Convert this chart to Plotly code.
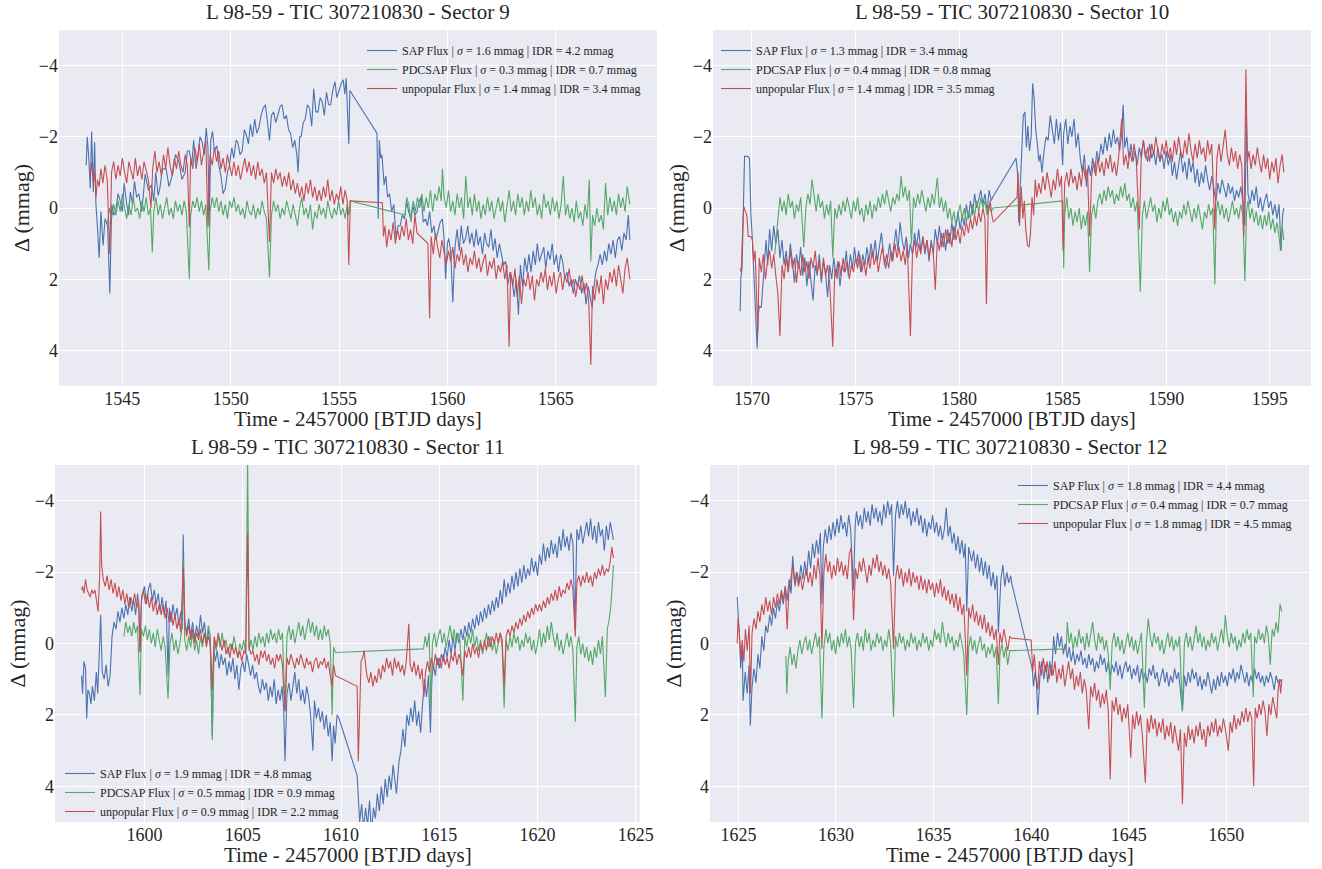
import plotly.graph_objects as go

# ---------------- data (time [BTJD], delta [mmag]) ----------------
sectors = [9, 10, 11, 12]
sigma_sap = [1.6, 1.3, 1.9, 1.8]
idr_sap = [4.2, 3.4, 4.8, 4.4]
sigma_pdc = [0.3, 0.4, 0.5, 0.4]
idr_pdc = [0.7, 0.8, 0.9, 0.7]
sigma_unp = [1.4, 1.4, 0.9, 1.8]
idr_unp = [3.4, 3.5, 2.2, 4.5]

s9_sap = [(1543.33,-1.2),(1543.38,-2.0),(1543.45,-1.4),(1543.52,-0.55),(1543.58,-2.15),(1543.66,-0.45),(1543.72,-1.85),(1543.78,-0.1),(1543.85,0.55),(1543.93,1.4),(1544.01,0.1),(1544.11,1.05),(1544.20,0.3),(1544.32,0.5),(1544.42,2.4),(1544.51,-0.1),(1544.60,0.2),(1544.69,0.1),(1544.80,-0.4),(1544.88,-0.25),(1545.00,0.1),(1545.08,-0.7),(1545.18,-0.2),(1545.28,0.2),(1545.37,-0.45),(1545.47,-0.1),(1545.56,-0.75),(1545.66,-0.3),(1545.76,-0.4),(1545.90,0.1),(1546.05,-0.95),(1546.20,-0.5),(1546.34,-0.65),(1546.45,-0.2),(1546.54,-1.0),(1546.65,-0.35),(1546.73,-0.55),(1546.85,-1.1),(1547.02,-1.1),(1547.15,-0.6),(1547.32,-0.95),(1547.45,-1.5),(1547.61,-1.3),(1547.75,-0.8),(1547.90,-1.0),(1548.00,-1.6),(1548.09,-1.6),(1548.20,-1.2),(1548.29,-1.9),(1548.40,-1.1),(1548.48,-1.4),(1548.58,-2.0),(1548.68,-1.85),(1548.78,-1.5),(1548.87,-2.25),(1548.95,-1.7),(1549.01,0.5),(1549.08,-1.9),(1549.16,-2.15),(1549.25,-1.6),(1549.36,-1.75),(1549.45,-1.2),(1549.55,-0.9),(1549.65,-0.4),(1549.75,-0.55),(1549.85,-1.0),(1549.94,-1.2),(1550.05,-1.7),(1550.14,-1.4),(1550.25,-1.9),(1550.33,-1.85),(1550.43,-1.5),(1550.53,-1.6),(1550.63,-2.2),(1550.72,-2.05),(1550.82,-1.8),(1550.91,-2.35),(1551.01,-2.0),(1551.11,-2.5),(1551.20,-2.1),(1551.30,-2.25),(1551.40,-2.6),(1551.50,-2.8),(1551.60,-2.9),(1551.70,-2.4),(1551.79,-1.9),(1551.88,-2.6),(1551.98,-2.7),(1552.08,-2.4),(1552.18,-2.6),(1552.28,-2.85),(1552.37,-2.9),(1552.47,-2.5),(1552.57,-2.6),(1552.67,-2.2),(1552.76,-2.1),(1552.86,-1.7),(1552.96,-1.9),(1553.05,-1.5),(1553.11,-1.0),(1553.18,-2.0),(1553.25,-2.0),(1553.35,-2.4),(1553.44,-2.5),(1553.54,-2.9),(1553.64,-2.8),(1553.74,-2.3),(1553.83,-3.35),(1553.93,-2.7),(1554.03,-2.7),(1554.13,-3.1),(1554.22,-3.0),(1554.32,-2.6),(1554.42,-3.25),(1554.52,-2.9),(1554.61,-2.9),(1554.71,-3.3),(1554.81,-3.55),(1554.90,-3.1),(1555.00,-3.3),(1555.10,-3.5),(1555.19,-3.6),(1555.27,-3.2),(1555.33,-3.65),(1555.40,-2.4),(1555.45,-1.8),(1555.50,-3.3),(1556.75,-2.1),(1556.81,0.3),(1556.86,-1.9),(1556.92,-1.4),(1556.98,-1.5),(1557.08,-0.65),(1557.16,-0.9),(1557.24,-0.3),(1557.33,-0.4),(1557.43,0.1),(1557.53,-0.1),(1557.63,0.85),(1557.72,0.5),(1557.82,0.5),(1557.92,0.2),(1558.02,0.3),(1558.12,-0.2),(1558.21,0.1),(1558.31,0.3),(1558.40,-0.1),(1558.50,0.2),(1558.60,0.1),(1558.70,-0.2),(1558.79,-0.3),(1558.89,0.4),(1558.99,0.3),(1559.08,0.5),(1559.18,0.1),(1559.28,0.7),(1559.38,0.5),(1559.47,0.9),(1559.57,0.65),(1559.67,0.4),(1559.77,0.3),(1559.85,0.9),(1559.92,2.0),(1560.00,1.0),(1560.06,0.85),(1560.15,1.2),(1560.25,2.65),(1560.35,1.1),(1560.45,0.6),(1560.55,1.2),(1560.64,0.5),(1560.74,1.0),(1560.84,0.85),(1560.94,0.5),(1561.03,1.0),(1561.13,0.7),(1561.23,1.1),(1561.33,0.6),(1561.42,1.05),(1561.52,0.8),(1561.62,1.3),(1561.72,0.7),(1561.81,1.0),(1561.91,1.1),(1562.01,0.6),(1562.11,1.2),(1562.20,0.85),(1562.30,1.4),(1562.40,1.0),(1562.50,1.3),(1562.59,1.6),(1562.69,1.5),(1562.79,2.15),(1562.89,1.8),(1562.98,2.0),(1563.08,2.5),(1563.18,2.0),(1563.28,3.0),(1563.37,1.6),(1563.47,2.2),(1563.57,1.4),(1563.67,1.8),(1563.76,1.3),(1563.86,1.8),(1563.96,1.2),(1564.06,1.6),(1564.15,1.0),(1564.25,1.5),(1564.35,1.3),(1564.45,1.1),(1564.54,1.7),(1564.64,1.2),(1564.74,1.45),(1564.84,1.0),(1564.93,1.6),(1565.03,1.3),(1565.13,1.8),(1565.23,1.3),(1565.32,1.5),(1565.42,2.0),(1565.52,1.8),(1565.62,2.2),(1565.71,2.0),(1565.81,2.4),(1565.91,2.0),(1566.00,2.2),(1566.10,1.9),(1566.20,2.4),(1566.30,2.1),(1566.40,2.7),(1566.50,2.2),(1566.60,2.6),(1566.68,2.8),(1566.75,2.3),(1566.85,1.8),(1566.95,1.6),(1567.05,1.3),(1567.15,1.6),(1567.25,1.2),(1567.35,1.5),(1567.45,1.0),(1567.55,1.3),(1567.65,0.9),(1567.75,1.4),(1567.85,0.9),(1567.95,0.8),(1568.05,1.2),(1568.15,0.7),(1568.25,0.9),(1568.35,0.2),(1568.42,0.9)]

s9_pdc = [(1544.30,0.5),(1544.40,0.0),(1544.50,0.3),(1544.60,-0.1),(1544.70,0.2),(1544.80,-0.2),(1544.90,0.1),(1545.00,-0.4),(1545.10,0.0),(1545.20,0.3),(1545.30,-0.1),(1545.40,0.2),(1545.50,-0.3),(1545.60,0.1),(1545.70,0.0),(1545.80,0.3),(1545.90,-0.2),(1546.00,0.1),(1546.10,-0.3),(1546.20,0.2),(1546.30,0.0),(1546.38,1.25),(1546.45,0.1),(1546.55,-0.3),(1546.65,0.2),(1546.75,-0.1),(1546.85,0.3),(1546.95,0.0),(1547.05,-0.3),(1547.15,0.2),(1547.25,0.0),(1547.35,0.3),(1547.45,-0.2),(1547.55,0.1),(1547.65,-0.1),(1547.75,0.2),(1547.85,-0.2),(1547.95,0.1),(1548.09,2.0),(1548.15,0.2),(1548.25,-0.2),(1548.35,0.0),(1548.45,-0.3),(1548.55,0.1),(1548.65,-0.2),(1548.75,0.2),(1548.85,-0.1),(1548.99,1.75),(1549.05,0.1),(1549.15,-0.3),(1549.25,0.0),(1549.35,-0.3),(1549.45,0.1),(1549.55,-0.2),(1549.65,0.2),(1549.75,-0.1),(1549.85,0.3),(1549.95,-0.2),(1550.05,0.0),(1550.15,-0.3),(1550.25,0.1),(1550.35,-0.1),(1550.45,0.2),(1550.55,0.0),(1550.65,0.3),(1550.75,-0.2),(1550.85,0.1),(1550.95,0.2),(1551.05,-0.1),(1551.15,0.3),(1551.25,0.0),(1551.35,0.2),(1551.45,-0.2),(1551.55,0.1),(1551.65,0.3),(1551.79,1.95),(1551.88,0.2),(1551.98,-0.2),(1552.08,0.1),(1552.18,-0.1),(1552.28,0.3),(1552.38,0.0),(1552.48,0.2),(1552.58,-0.2),(1552.68,0.1),(1552.78,0.3),(1552.88,-0.1),(1552.98,0.2),(1553.08,0.5),(1553.18,0.0),(1553.28,-0.3),(1553.38,0.2),(1553.48,0.0),(1553.58,0.3),(1553.68,-0.1),(1553.78,0.6),(1553.88,0.1),(1553.98,0.3),(1554.08,-0.1),(1554.18,0.2),(1554.28,0.0),(1554.38,0.3),(1554.48,-0.2),(1554.58,0.1),(1554.68,0.3),(1554.78,0.0),(1554.88,0.2),(1554.98,-0.2),(1555.08,0.2),(1555.18,0.0),(1555.28,0.3),(1555.38,-0.1),(1555.45,0.2),(1555.52,-0.2),(1558.05,0.2),(1558.12,-0.3),(1558.22,-0.1),(1558.32,0.4),(1558.42,-0.2),(1558.52,0.1),(1558.62,-0.3),(1558.72,0.0),(1558.82,-0.4),(1558.92,0.1),(1559.02,-0.3),(1559.12,0.0),(1559.22,-0.5),(1559.32,0.1),(1559.42,-0.4),(1559.52,-0.2),(1559.62,-0.6),(1559.72,-0.2),(1559.77,-1.1),(1559.85,-0.3),(1559.95,0.0),(1560.05,-0.5),(1560.15,0.1),(1560.25,-0.2),(1560.35,0.2),(1560.45,-0.4),(1560.55,0.0),(1560.65,-0.3),(1560.75,0.3),(1560.85,-0.9),(1560.95,0.0),(1561.05,-0.3),(1561.15,0.2),(1561.25,-0.4),(1561.35,0.1),(1561.45,-0.2),(1561.55,0.3),(1561.65,-0.1),(1561.75,0.2),(1561.85,-0.3),(1561.95,0.1),(1562.05,-0.2),(1562.15,0.3),(1562.25,0.0),(1562.35,-0.3),(1562.45,0.1),(1562.55,-0.2),(1562.65,0.4),(1562.75,0.0),(1562.85,-0.5),(1562.95,0.1),(1563.05,-0.2),(1563.15,0.2),(1563.25,-0.4),(1563.35,0.0),(1563.45,-0.3),(1563.55,0.2),(1563.65,-0.2),(1563.75,0.1),(1563.85,-0.5),(1563.95,0.0),(1564.05,-0.3),(1564.15,0.2),(1564.25,-0.1),(1564.35,0.3),(1564.45,-0.4),(1564.55,0.0),(1564.65,-0.2),(1564.75,0.2),(1564.85,-0.3),(1564.95,0.1),(1565.05,-0.2),(1565.15,0.3),(1565.25,-0.1),(1565.35,-0.9),(1565.45,0.2),(1565.55,-0.1),(1565.65,0.3),(1565.75,0.0),(1565.85,0.4),(1565.95,-0.2),(1566.05,0.3),(1566.15,0.1),(1566.25,0.5),(1566.35,-0.1),(1566.45,0.3),(1566.55,-0.8),(1566.62,1.5),(1566.70,0.2),(1566.80,0.5),(1566.90,0.0),(1567.00,0.4),(1567.10,0.2),(1567.20,0.6),(1567.30,-0.7),(1567.40,0.2),(1567.50,-0.3),(1567.60,0.1),(1567.70,-0.2),(1567.80,0.2),(1567.90,-0.4),(1568.00,0.0),(1568.10,-0.3),(1568.20,0.1),(1568.30,-0.6),(1568.42,-0.1)]

s9_unp = [(1543.52,-0.9),(1543.58,-1.3),(1543.66,-0.7),(1543.72,-1.0),(1543.78,-0.3),(1543.85,-0.8),(1543.93,-0.6),(1544.01,-1.1),(1544.10,-0.7),(1544.20,-1.2),(1544.30,-0.8),(1544.42,1.3),(1544.50,-1.0),(1544.60,-1.3),(1544.70,-0.8),(1544.80,-1.2),(1544.90,-0.9),(1545.00,-1.4),(1545.10,-1.0),(1545.20,-0.7),(1545.30,-1.3),(1545.40,-1.0),(1545.50,-0.8),(1545.60,-1.4),(1545.70,-0.9),(1545.80,-1.2),(1545.90,-0.8),(1546.00,-1.3),(1546.10,-1.0),(1546.20,-0.8),(1546.32,0.0),(1546.40,-1.1),(1546.50,-1.6),(1546.60,-1.0),(1546.70,-1.3),(1546.80,-0.9),(1546.90,-1.5),(1547.00,-1.1),(1547.10,-1.7),(1547.20,-1.2),(1547.30,-0.9),(1547.40,-1.4),(1547.50,-1.1),(1547.60,-1.6),(1547.70,-1.2),(1547.80,-1.0),(1547.90,-1.5),(1548.00,-1.2),(1548.09,0.55),(1548.15,-1.4),(1548.25,-1.1),(1548.35,-1.7),(1548.45,-1.3),(1548.55,-1.8),(1548.65,-1.2),(1548.75,-1.6),(1548.85,-1.9),(1548.95,0.55),(1549.05,-1.5),(1549.15,-1.2),(1549.25,-1.7),(1549.35,-1.3),(1549.45,-1.6),(1549.55,-1.1),(1549.65,-1.4),(1549.75,-1.0),(1549.85,-1.5),(1549.95,-1.2),(1550.05,-0.9),(1550.15,-1.3),(1550.25,-0.9),(1550.35,-1.2),(1550.45,-0.8),(1550.55,-1.1),(1550.65,-1.4),(1550.75,-1.0),(1550.85,-1.3),(1550.95,-0.9),(1551.05,-1.2),(1551.15,-0.8),(1551.25,-1.3),(1551.35,-0.9),(1551.45,-1.1),(1551.55,-0.7),(1551.65,-1.0),(1551.79,0.95),(1551.88,-1.0),(1551.98,-0.7),(1552.08,-1.1),(1552.18,-0.8),(1552.28,-1.0),(1552.38,-0.6),(1552.48,-0.9),(1552.58,-0.6),(1552.68,-1.0),(1552.78,-0.5),(1552.88,-0.8),(1552.98,-0.4),(1553.08,-0.7),(1553.18,-0.3),(1553.28,-0.6),(1553.38,-0.2),(1553.48,-0.7),(1553.58,-0.4),(1553.68,-0.8),(1553.78,-0.3),(1553.88,-0.6),(1553.98,-0.2),(1554.08,-0.5),(1554.18,-0.2),(1554.28,-0.6),(1554.38,-0.3),(1554.48,-0.8),(1554.58,-0.2),(1554.68,-0.5),(1554.78,-0.1),(1554.88,-0.4),(1554.98,-0.2),(1555.08,-0.6),(1555.18,-0.1),(1555.28,-0.5),(1555.38,-0.2),(1555.45,1.6),(1555.52,-0.2),(1557.00,-0.15),(1557.05,0.8),(1557.12,0.5),(1557.20,1.1),(1557.30,0.6),(1557.40,0.9),(1557.50,0.4),(1557.60,1.0),(1557.70,0.6),(1557.80,0.9),(1557.90,0.5),(1558.00,0.8),(1558.10,0.3),(1558.20,0.9),(1558.30,0.6),(1558.40,1.0),(1558.50,0.2),(1558.60,0.7),(1559.10,1.0),(1559.18,3.1),(1559.25,0.8),(1559.35,1.3),(1559.45,0.7),(1559.55,1.1),(1559.65,1.4),(1559.75,0.9),(1559.85,1.3),(1559.95,1.6),(1560.05,1.2),(1560.15,1.5),(1560.25,1.1),(1560.35,1.7),(1560.45,1.3),(1560.55,1.5),(1560.65,1.1),(1560.75,1.6),(1560.85,1.3),(1560.95,1.8),(1561.05,1.4),(1561.15,1.6),(1561.25,1.2),(1561.35,1.7),(1561.45,1.4),(1561.55,1.8),(1561.65,1.5),(1561.75,1.3),(1561.85,1.9),(1561.95,1.5),(1562.05,1.7),(1562.15,1.4),(1562.25,2.0),(1562.35,1.6),(1562.45,1.8),(1562.55,1.5),(1562.65,2.0),(1562.75,1.6),(1562.85,3.9),(1562.92,1.8),(1563.02,2.2),(1563.12,1.7),(1563.22,2.5),(1563.32,1.9),(1563.42,2.7),(1563.52,2.0),(1563.62,2.2),(1563.72,1.8),(1563.82,2.3),(1563.92,1.9),(1564.02,2.6),(1564.12,2.0),(1564.22,2.2),(1564.32,1.8),(1564.42,2.1),(1564.52,1.7),(1564.62,2.3),(1564.72,1.9),(1564.82,2.2),(1564.92,1.8),(1565.02,2.4),(1565.12,2.0),(1565.22,1.8),(1565.32,2.3),(1565.42,1.9),(1565.52,2.1),(1565.62,1.7),(1565.72,2.2),(1565.82,2.0),(1565.92,2.5),(1566.02,2.1),(1566.12,2.3),(1566.22,1.9),(1566.32,2.4),(1566.42,2.1),(1566.52,2.6),(1566.62,4.4),(1566.70,2.2),(1566.80,2.6),(1566.90,2.0),(1567.00,2.4),(1567.10,1.9),(1567.20,2.7),(1567.30,2.0),(1567.40,2.3),(1567.50,1.8),(1567.60,2.1),(1567.70,1.7),(1567.80,2.2),(1567.90,1.6),(1568.00,2.0),(1568.10,2.4),(1568.20,1.7),(1568.30,1.4),(1568.42,2.0)]

s10_sap = [(1569.43,2.9),(1569.46,2.0),(1569.52,1.7),(1569.58,0.0),(1569.64,-1.45),(1569.72,-1.45),(1569.80,-1.45),(1569.88,-1.4),(1569.95,0.2),(1570.02,0.9),(1570.10,2.0),(1570.18,3.0),(1570.25,3.95),(1570.30,3.0),(1570.36,2.75),(1570.45,2.8),(1570.52,2.2),(1570.60,1.5),(1570.68,0.9),(1570.76,1.6),(1570.85,0.6),(1570.95,1.2),(1571.05,0.5),(1571.15,1.0),(1571.25,0.6),(1571.35,1.4),(1571.45,0.9),(1571.55,1.6),(1571.65,1.2),(1571.75,1.8),(1571.85,1.0),(1571.95,1.5),(1572.05,2.1),(1572.15,1.3),(1572.25,1.7),(1572.35,1.1),(1572.45,1.9),(1572.55,1.4),(1572.65,2.2),(1572.75,1.5),(1572.85,2.0),(1572.95,2.6),(1573.05,1.6),(1573.15,1.9),(1573.25,1.3),(1573.35,2.1),(1573.45,1.5),(1573.55,1.8),(1573.65,2.5),(1573.75,1.6),(1573.85,2.0),(1573.95,1.4),(1574.05,1.9),(1574.15,1.5),(1574.25,2.2),(1574.35,1.6),(1574.45,1.8),(1574.55,1.2),(1574.65,1.9),(1574.75,1.3),(1574.85,1.7),(1574.95,1.1),(1575.05,1.6),(1575.15,1.2),(1575.25,1.8),(1575.35,1.3),(1575.45,1.6),(1575.55,1.1),(1575.65,1.5),(1575.75,1.0),(1575.85,1.4),(1575.95,0.9),(1576.05,1.5),(1576.15,1.1),(1576.25,0.7),(1576.35,1.3),(1576.45,1.7),(1576.55,1.4),(1576.65,1.0),(1576.75,1.5),(1576.85,1.1),(1576.95,0.6),(1577.05,1.2),(1577.15,0.4),(1577.25,0.9),(1577.35,1.2),(1577.45,0.8),(1577.55,1.4),(1577.65,1.0),(1577.75,1.3),(1577.85,0.7),(1577.95,1.1),(1578.05,0.6),(1578.15,1.2),(1578.25,0.8),(1578.35,1.3),(1578.45,0.9),(1578.55,1.5),(1578.65,0.9),(1578.75,1.3),(1578.85,0.6),(1578.95,1.0),(1579.05,0.5),(1579.15,1.1),(1579.25,0.7),(1579.35,1.2),(1579.45,0.6),(1579.55,1.0),(1579.65,0.4),(1579.75,0.9),(1579.85,0.5),(1579.95,0.1),(1580.05,0.6),(1580.15,0.2),(1580.25,0.5),(1580.35,-0.1),(1580.45,0.3),(1580.55,-0.2),(1580.65,0.2),(1580.75,-0.4),(1580.85,0.0),(1580.95,-0.3),(1581.05,-0.5),(1581.15,-0.1),(1581.25,-0.4),(1581.35,0.1),(1581.45,-0.5),(1581.55,-0.2),(1581.62,-0.3),(1582.75,-1.4),(1582.82,-1.0),(1582.88,0.4),(1582.95,-0.5),(1583.02,-1.2),(1583.10,-2.6),(1583.18,-2.7),(1583.25,-1.7),(1583.32,-2.3),(1583.40,-1.6),(1583.48,-2.0),(1583.55,-3.5),(1583.62,-3.1),(1583.70,-2.2),(1583.78,-1.8),(1583.85,-1.3),(1583.92,-1.5),(1584.00,-1.0),(1584.10,-1.6),(1584.20,-2.0),(1584.30,-1.9),(1584.40,-2.6),(1584.50,-2.2),(1584.60,-1.8),(1584.70,-2.5),(1584.80,-1.9),(1584.90,-2.4),(1585.00,-1.2),(1585.05,-2.1),(1585.15,-2.5),(1585.25,-1.8),(1585.35,-2.3),(1585.45,-2.0),(1585.55,-2.5),(1585.65,-1.7),(1585.75,-2.1),(1585.85,-1.4),(1585.95,-1.0),(1586.05,-1.5),(1586.15,-0.6),(1586.25,-1.2),(1586.35,-0.9),(1586.45,-1.4),(1586.55,-1.0),(1586.65,-1.6),(1586.75,-1.3),(1586.85,-1.8),(1586.95,-1.5),(1587.05,-2.0),(1587.15,-1.6),(1587.25,-2.1),(1587.35,-1.7),(1587.45,-2.2),(1587.55,-1.8),(1587.65,-2.0),(1587.75,-1.6),(1587.85,-2.1),(1587.92,-2.9),(1588.00,-1.7),(1588.10,-2.0),(1588.20,-1.4),(1588.30,-1.8),(1588.40,-1.3),(1588.50,-1.6),(1588.60,-1.2),(1588.70,-1.7),(1588.80,-1.4),(1588.90,-1.9),(1589.00,-1.5),(1589.10,-1.3),(1589.20,-1.8),(1589.30,-1.4),(1589.40,-1.6),(1589.50,-1.2),(1589.60,-1.7),(1589.70,-1.3),(1589.80,-1.5),(1589.90,-1.1),(1590.00,-1.6),(1590.10,-1.2),(1590.20,-1.5),(1590.30,-0.9),(1590.40,-1.3),(1590.50,-0.8),(1590.60,-1.2),(1590.70,-1.6),(1590.80,-1.0),(1590.90,-1.3),(1591.00,-0.8),(1591.10,-1.4),(1591.20,-1.0),(1591.30,-1.3),(1591.40,-0.7),(1591.50,-1.1),(1591.60,-0.6),(1591.70,-1.0),(1591.80,-0.7),(1591.90,-1.2),(1592.00,-0.8),(1592.10,-0.5),(1592.20,-0.9),(1592.30,-0.6),(1592.40,-0.2),(1592.50,-0.7),(1592.60,-0.4),(1592.70,-0.8),(1592.80,-0.5),(1592.90,-0.3),(1593.00,-0.7),(1593.10,-0.4),(1593.20,-0.6),(1593.30,-0.2),(1593.40,-0.5),(1593.50,-0.3),(1593.60,-0.6),(1593.70,-0.2),(1593.80,0.5),(1593.87,-2.6),(1593.95,-0.4),(1594.05,-0.1),(1594.15,-0.5),(1594.25,-0.2),(1594.35,-0.6),(1594.45,0.0),(1594.55,-0.3),(1594.65,0.1),(1594.75,-0.2),(1594.85,-0.4),(1594.95,0.0),(1595.05,-0.2),(1595.15,0.2),(1595.25,-0.1),(1595.35,0.3),(1595.45,-0.1),(1595.55,1.2),(1595.62,0.2),(1595.68,0.0)]

s10_pdc = [(1571.10,1.3),(1571.18,0.8),(1571.25,0.2),(1571.35,-0.3),(1571.45,0.1),(1571.55,-0.2),(1571.65,0.2),(1571.75,-0.4),(1571.85,0.0),(1571.95,-0.2),(1572.05,0.3),(1572.15,-0.1),(1572.25,0.1),(1572.35,-0.3),(1572.50,1.1),(1572.60,0.0),(1572.70,-0.4),(1572.80,-0.1),(1572.90,-0.8),(1573.00,-0.3),(1573.10,0.1),(1573.20,-0.4),(1573.30,0.0),(1573.40,-0.2),(1573.50,0.3),(1573.60,-0.1),(1573.70,0.2),(1573.80,-0.2),(1573.90,1.4),(1574.00,0.0),(1574.10,0.3),(1574.20,-0.1),(1574.30,0.2),(1574.40,-0.2),(1574.50,0.1),(1574.60,-0.3),(1574.70,0.0),(1574.80,0.3),(1574.90,-0.2),(1575.00,0.1),(1575.10,-0.3),(1575.20,0.2),(1575.30,0.0),(1575.40,0.4),(1575.50,-0.1),(1575.60,0.2),(1575.70,-0.2),(1575.80,0.3),(1575.90,-0.1),(1576.00,0.1),(1576.10,-0.3),(1576.20,0.0),(1576.30,-0.4),(1576.40,-0.1),(1576.50,-0.5),(1576.60,-0.2),(1576.70,0.1),(1576.80,-0.3),(1576.90,-0.1),(1577.00,-0.4),(1577.10,-0.2),(1577.20,-0.9),(1577.30,-0.3),(1577.40,-0.6),(1577.50,-0.2),(1577.60,-0.5),(1577.70,1.0),(1577.80,-0.3),(1577.90,0.0),(1578.00,-0.4),(1578.10,-0.1),(1578.20,-0.5),(1578.30,-0.2),(1578.40,0.1),(1578.50,-0.3),(1578.60,0.0),(1578.70,-0.4),(1578.80,-0.1),(1578.95,-0.85),(1579.05,0.0),(1579.15,-0.3),(1579.25,0.1),(1579.35,-0.2),(1579.45,0.3),(1579.55,0.0),(1579.65,0.4),(1579.75,0.1),(1579.85,0.5),(1579.95,0.2),(1580.05,-0.1),(1580.15,0.3),(1580.25,0.0),(1580.35,0.4),(1580.45,0.1),(1580.55,0.3),(1580.65,-0.1),(1580.75,0.2),(1580.85,-0.2),(1580.95,0.1),(1581.05,-0.3),(1581.15,0.0),(1581.25,-0.2),(1581.35,0.2),(1581.45,-0.1),(1581.55,0.1),(1581.65,0.0),(1585.00,-0.2),(1585.05,1.7),(1585.10,0.2),(1585.20,-0.3),(1585.30,0.3),(1585.40,0.0),(1585.50,0.5),(1585.60,0.1),(1585.70,0.4),(1585.80,0.0),(1585.90,0.6),(1586.00,0.2),(1586.10,0.5),(1586.20,0.1),(1586.30,1.8),(1586.40,0.2),(1586.50,-0.1),(1586.60,0.3),(1586.70,-0.2),(1586.80,-0.4),(1586.90,-0.1),(1587.00,-0.5),(1587.10,-0.2),(1587.20,-0.6),(1587.30,-0.3),(1587.40,-0.5),(1587.50,-0.1),(1587.60,-0.4),(1587.70,-0.2),(1587.80,-0.6),(1587.90,-0.3),(1588.00,-0.7),(1588.10,-0.2),(1588.20,-0.4),(1588.30,0.0),(1588.40,-0.3),(1588.50,0.1),(1588.60,-0.2),(1588.75,2.35),(1588.85,0.2),(1588.95,-0.2),(1589.05,0.3),(1589.15,0.0),(1589.25,-0.3),(1589.35,0.1),(1589.45,-0.1),(1589.55,0.4),(1589.65,0.0),(1589.75,0.3),(1589.85,-0.2),(1589.95,0.1),(1590.05,-0.3),(1590.15,0.2),(1590.25,0.0),(1590.35,0.4),(1590.45,0.1),(1590.55,0.5),(1590.65,0.1),(1590.75,0.3),(1590.85,-0.1),(1590.95,0.2),(1591.05,-0.2),(1591.15,0.1),(1591.25,0.4),(1591.35,0.0),(1591.45,0.3),(1591.55,-0.1),(1591.65,0.2),(1591.75,0.6),(1591.85,0.1),(1591.95,0.3),(1592.05,-0.1),(1592.15,0.2),(1592.25,0.0),(1592.35,2.15),(1592.42,0.1),(1592.50,-0.2),(1592.60,0.2),(1592.70,-0.1),(1592.80,0.3),(1592.90,0.0),(1593.00,0.4),(1593.10,0.1),(1593.20,-0.2),(1593.30,0.2),(1593.40,0.0),(1593.50,0.3),(1593.60,-0.1),(1593.70,0.2),(1593.80,2.05),(1593.88,0.1),(1593.95,-0.2),(1594.05,0.3),(1594.15,0.0),(1594.25,0.4),(1594.35,0.1),(1594.45,0.5),(1594.55,0.2),(1594.65,0.6),(1594.75,0.2),(1594.85,0.5),(1594.95,0.1),(1595.05,0.6),(1595.15,0.3),(1595.25,0.7),(1595.35,0.4),(1595.45,0.8),(1595.52,1.2),(1595.60,0.5),(1595.68,0.9)]

s10_unp = [(1569.43,1.7),(1569.48,1.8),(1569.55,0.6),(1569.60,-0.05),(1569.68,0.1),(1569.75,0.2),(1569.82,0.8),(1569.95,0.8),(1570.02,0.9),(1570.08,1.5),(1570.15,1.2),(1570.22,2.2),(1570.28,3.5),(1570.35,1.4),(1570.45,1.8),(1570.55,1.3),(1570.65,2.0),(1570.75,1.5),(1570.85,1.2),(1570.95,1.7),(1571.05,1.3),(1571.15,1.9),(1571.25,2.4),(1571.35,3.6),(1571.45,1.6),(1571.55,2.0),(1571.65,1.4),(1571.75,1.8),(1571.85,1.2),(1571.95,1.7),(1572.05,1.4),(1572.15,2.1),(1572.25,1.5),(1572.35,1.9),(1572.45,1.3),(1572.55,1.8),(1572.65,1.5),(1572.75,2.0),(1572.85,1.4),(1572.95,1.7),(1573.05,1.2),(1573.15,1.8),(1573.25,1.5),(1573.35,2.0),(1573.45,1.4),(1573.55,1.9),(1573.65,1.6),(1573.75,2.1),(1573.90,3.9),(1574.00,1.7),(1574.10,2.0),(1574.20,1.5),(1574.30,1.9),(1574.40,1.4),(1574.50,1.8),(1574.60,1.5),(1574.70,2.0),(1574.80,1.6),(1574.90,1.8),(1575.00,1.4),(1575.10,1.7),(1575.20,1.3),(1575.30,1.8),(1575.40,1.5),(1575.50,1.9),(1575.60,1.4),(1575.70,1.7),(1575.80,1.2),(1575.90,1.6),(1576.00,1.3),(1576.10,1.8),(1576.20,1.4),(1576.30,1.1),(1576.40,1.6),(1576.50,1.3),(1576.60,1.7),(1576.70,1.2),(1576.80,1.5),(1576.90,1.0),(1577.00,1.4),(1577.10,1.1),(1577.20,1.5),(1577.30,1.2),(1577.40,1.6),(1577.50,1.0),(1577.65,3.6),(1577.75,1.3),(1577.85,0.9),(1577.95,1.4),(1578.05,1.0),(1578.15,1.3),(1578.25,0.8),(1578.35,1.2),(1578.45,0.9),(1578.55,1.4),(1578.65,1.0),(1578.75,1.2),(1578.85,2.3),(1578.95,0.9),(1579.05,1.2),(1579.15,0.7),(1579.25,1.1),(1579.35,0.6),(1579.45,1.0),(1579.55,0.7),(1579.65,1.1),(1579.75,0.5),(1579.85,0.9),(1579.95,0.6),(1580.05,1.0),(1580.15,0.5),(1580.25,0.8),(1580.35,0.4),(1580.45,0.7),(1580.55,0.3),(1580.65,0.6),(1580.75,0.2),(1580.85,0.5),(1580.95,0.1),(1581.05,0.4),(1581.15,0.0),(1581.25,0.3),(1581.32,2.7),(1581.40,0.2),(1581.50,-0.2),(1581.58,0.2),(1581.65,0.4),(1582.80,-0.3),(1582.85,-1.0),(1582.92,0.5),(1583.00,-0.6),(1583.08,0.3),(1583.15,-0.2),(1583.22,0.6),(1583.30,1.05),(1583.38,1.1),(1583.45,0.7),(1583.52,-0.3),(1583.60,0.2),(1583.68,-0.8),(1583.75,-0.3),(1583.85,-0.7),(1583.95,-0.4),(1584.05,-0.9),(1584.15,-0.5),(1584.25,-1.0),(1584.35,-0.6),(1584.45,-0.3),(1584.55,-0.8),(1584.65,-0.5),(1584.75,-1.1),(1584.85,-0.6),(1584.95,-0.9),(1585.02,1.2),(1585.10,-0.7),(1585.20,-1.0),(1585.30,-0.6),(1585.40,-1.1),(1585.50,-0.7),(1585.60,-0.9),(1585.70,-0.5),(1585.80,-1.0),(1585.90,-0.6),(1586.00,-1.2),(1586.10,-0.8),(1586.20,-1.1),(1586.30,0.8),(1586.40,-0.9),(1586.50,-1.3),(1586.60,-0.9),(1586.70,-1.4),(1586.80,-1.0),(1586.90,-1.3),(1587.00,-0.9),(1587.10,-1.4),(1587.20,-1.1),(1587.30,-1.5),(1587.40,-1.0),(1587.50,-1.3),(1587.60,-0.9),(1587.70,-1.4),(1587.85,-2.5),(1587.95,-1.2),(1588.05,-1.5),(1588.15,-1.1),(1588.25,-1.6),(1588.35,-1.3),(1588.45,-1.8),(1588.55,-1.4),(1588.70,0.6),(1588.80,-1.5),(1588.90,-1.9),(1589.00,-1.4),(1589.10,-1.7),(1589.20,-1.3),(1589.30,-1.8),(1589.40,-1.5),(1589.50,-2.0),(1589.60,-1.6),(1589.70,-1.3),(1589.80,-1.8),(1589.90,-1.5),(1590.00,-1.9),(1590.10,-1.4),(1590.20,-1.7),(1590.30,-1.3),(1590.40,-1.9),(1590.50,-1.5),(1590.60,-2.0),(1590.70,-1.6),(1590.80,-1.4),(1590.90,-1.9),(1591.00,-1.5),(1591.10,-2.1),(1591.20,-1.6),(1591.30,-1.3),(1591.40,-1.8),(1591.50,-1.4),(1591.60,-1.9),(1591.70,-1.5),(1591.80,-1.7),(1591.90,-1.3),(1592.00,-1.9),(1592.10,-1.5),(1592.20,-1.8),(1592.35,0.6),(1592.45,-1.4),(1592.55,-1.8),(1592.65,-1.3),(1592.75,-1.7),(1592.85,-2.2),(1592.95,-1.5),(1593.05,-1.2),(1593.15,-1.7),(1593.25,-1.3),(1593.35,-1.6),(1593.45,-1.1),(1593.55,-1.5),(1593.65,-1.2),(1593.75,0.8),(1593.85,-3.9),(1593.92,-1.3),(1594.00,-1.6),(1594.10,-1.1),(1594.20,-1.5),(1594.30,-1.2),(1594.40,-1.7),(1594.50,-1.3),(1594.60,-1.0),(1594.70,-1.5),(1594.80,-1.1),(1594.90,-1.4),(1595.00,-0.8),(1595.10,-1.3),(1595.20,-1.0),(1595.30,-1.4),(1595.40,-0.7),(1595.50,-1.2),(1595.60,-1.5),(1595.68,-1.0)]

s11_sap = [(1596.80,0.9),(1596.85,1.4),(1596.92,0.5),(1597.00,0.7),(1597.06,2.1),(1597.12,1.3),(1597.20,1.4),(1597.28,1.7),(1597.35,1.2),(1597.45,1.6),(1597.55,0.8),(1597.62,1.4),(1597.70,0.3),(1597.77,-0.8),(1597.85,0.8),(1597.95,1.0),(1598.05,0.6),(1598.15,1.2),(1598.25,0.9),(1598.35,-0.2),(1598.45,-0.6),(1598.55,-0.4),(1598.65,-0.9),(1598.75,-0.6),(1598.85,-1.0),(1598.95,-0.7),(1599.05,-1.1),(1599.15,-0.8),(1599.25,-1.3),(1599.35,-0.9),(1599.45,-1.2),(1599.55,-0.8),(1599.65,-1.4),(1599.72,-1.0),(1599.77,0.2),(1599.85,-1.3),(1600.00,-1.6),(1600.10,-1.1),(1600.20,-1.5),(1600.30,-1.7),(1600.40,-1.2),(1600.50,-1.5),(1600.60,-1.1),(1600.70,-1.4),(1600.80,-0.9),(1600.90,-1.3),(1601.00,-0.8),(1601.10,-1.2),(1601.20,0.9),(1601.27,-1.0),(1601.35,-0.6),(1601.45,-1.1),(1601.55,-0.7),(1601.65,-1.0),(1601.75,-0.5),(1601.85,-0.9),(1601.92,-0.4),(1601.97,-3.05),(1602.05,-0.6),(1602.15,-0.3),(1602.25,-0.7),(1602.35,-0.2),(1602.45,-0.6),(1602.55,-0.1),(1602.65,-0.5),(1602.75,-0.2),(1602.85,-0.8),(1602.95,-0.3),(1603.05,-0.6),(1603.15,0.0),(1603.25,-0.4),(1603.35,0.1),(1603.45,2.6),(1603.52,0.1),(1603.60,0.5),(1603.70,0.2),(1603.80,0.7),(1603.90,0.3),(1604.00,0.6),(1604.10,0.4),(1604.20,0.9),(1604.30,0.5),(1604.40,0.8),(1604.50,0.4),(1604.60,1.0),(1604.70,0.6),(1604.80,1.3),(1604.90,0.7),(1605.00,0.5),(1605.10,0.8),(1605.20,0.3),(1605.30,0.6),(1605.40,0.9),(1605.50,0.6),(1605.60,1.0),(1605.70,0.8),(1605.80,1.2),(1605.90,1.4),(1606.00,1.0),(1606.10,1.3),(1606.20,1.1),(1606.30,1.6),(1606.40,1.2),(1606.50,1.5),(1606.60,1.0),(1606.70,1.7),(1606.80,1.3),(1606.90,1.6),(1607.00,1.2),(1607.08,1.8),(1607.15,3.3),(1607.25,1.4),(1607.35,1.1),(1607.45,1.6),(1607.55,1.2),(1607.65,0.8),(1607.75,1.4),(1607.85,1.0),(1607.95,1.6),(1608.05,1.3),(1608.15,1.7),(1608.25,1.2),(1608.35,1.5),(1608.45,2.0),(1608.57,3.0),(1608.65,1.6),(1608.75,2.1),(1608.85,1.8),(1608.95,2.2),(1609.05,1.9),(1609.15,2.4),(1609.25,2.0),(1609.35,2.6),(1609.45,2.2),(1609.55,3.3),(1609.62,2.3),(1609.70,2.8),(1609.80,2.0),(1609.90,2.1),(1610.82,3.7),(1610.88,4.3),(1610.95,5.0),(1611.05,4.5),(1611.15,5.2),(1611.25,4.6),(1611.35,5.1),(1611.45,4.4),(1611.55,5.3),(1611.65,4.6),(1611.75,4.9),(1611.85,4.2),(1611.95,4.7),(1612.05,4.0),(1612.15,4.5),(1612.25,3.8),(1612.35,4.3),(1612.45,3.7),(1612.55,4.1),(1612.65,3.4),(1612.75,3.8),(1612.82,4.2),(1612.95,3.3),(1613.05,3.0),(1613.15,2.4),(1613.25,2.9),(1613.35,2.0),(1613.45,2.3),(1613.55,1.8),(1613.65,2.2),(1613.75,1.6),(1613.85,2.3),(1613.95,1.9),(1614.05,2.5),(1614.15,1.7),(1614.25,1.0),(1614.35,1.5),(1614.45,0.9),(1614.55,2.5),(1614.62,1.0),(1614.70,0.6),(1614.80,0.9),(1614.90,0.4),(1615.00,0.7),(1615.10,0.3),(1615.20,0.5),(1615.30,0.1),(1615.40,0.4),(1615.50,-0.1),(1615.60,0.3),(1615.70,-0.2),(1615.80,0.2),(1615.90,-0.3),(1616.00,0.0),(1616.10,-0.4),(1616.20,-0.1),(1616.30,-0.5),(1616.40,-0.2),(1616.50,-0.6),(1616.60,-0.3),(1616.70,-0.7),(1616.80,-0.4),(1616.90,-0.8),(1617.00,-0.5),(1617.10,-0.9),(1617.20,-0.6),(1617.30,-1.0),(1617.40,-0.7),(1617.50,-1.1),(1617.60,-0.8),(1617.70,-1.2),(1617.80,-0.9),(1617.90,-1.3),(1618.00,-1.0),(1618.10,-1.5),(1618.20,-1.1),(1618.30,-1.8),(1618.40,-1.3),(1618.50,-1.7),(1618.60,-1.4),(1618.70,-1.9),(1618.80,-1.5),(1618.90,-2.0),(1619.00,-1.6),(1619.10,-2.1),(1619.20,-1.7),(1619.30,-2.2),(1619.40,-1.8),(1619.50,-2.1),(1619.60,-1.9),(1619.70,-2.4),(1619.80,-2.0),(1619.90,-2.3),(1620.00,-1.9),(1620.10,-2.5),(1620.20,-2.2),(1620.30,-2.8),(1620.40,-2.3),(1620.50,-2.7),(1620.60,-2.4),(1620.70,-2.9),(1620.80,-2.5),(1620.90,-2.8),(1621.00,-2.4),(1621.10,-3.0),(1621.20,-2.6),(1621.30,-3.2),(1621.40,-2.7),(1621.50,-3.0),(1621.60,-2.6),(1621.70,-3.1),(1621.80,-2.8),(1621.90,-0.4),(1622.00,-3.2),(1622.10,-2.9),(1622.20,-3.3),(1622.30,-2.8),(1622.40,-3.1),(1622.50,-3.4),(1622.60,-3.0),(1622.70,-3.5),(1622.80,-2.9),(1622.90,-3.3),(1623.00,-2.8),(1623.10,-3.4),(1623.20,-3.0),(1623.30,-3.2),(1623.40,-2.6),(1623.50,-3.3),(1623.60,-2.9),(1623.70,-3.4),(1623.86,-2.9)]

s11_pdc = [(1598.95,-0.2),(1599.05,-0.6),(1599.15,-0.3),(1599.25,-0.5),(1599.35,-0.2),(1599.45,-0.6),(1599.55,-0.3),(1599.65,-0.5),(1599.77,1.45),(1599.85,-0.4),(1599.95,-0.2),(1600.05,-0.5),(1600.15,-0.1),(1600.25,-0.4),(1600.35,0.0),(1600.45,-0.3),(1600.55,0.1),(1600.65,-0.4),(1600.75,-0.1),(1600.85,0.2),(1600.95,-0.2),(1601.05,0.1),(1601.20,1.55),(1601.30,0.0),(1601.40,-0.3),(1601.50,0.2),(1601.60,-0.1),(1601.70,0.3),(1601.80,0.0),(1601.90,-0.4),(1601.97,-2.35),(1602.05,-0.1),(1602.15,0.2),(1602.25,-0.2),(1602.35,0.1),(1602.45,-0.3),(1602.55,0.2),(1602.65,-0.1),(1602.75,0.3),(1602.85,-0.2),(1602.95,0.1),(1603.05,-0.3),(1603.15,0.0),(1603.25,-0.5),(1603.35,-0.2),(1603.45,2.7),(1603.55,-0.1),(1603.65,0.2),(1603.75,-0.2),(1603.85,0.1),(1603.95,-0.3),(1604.05,0.1),(1604.15,-0.1),(1604.25,0.3),(1604.35,0.0),(1604.45,0.2),(1604.55,-0.2),(1604.65,0.1),(1604.75,0.4),(1604.85,0.0),(1604.95,0.2),(1605.05,-0.1),(1605.15,0.3),(1605.25,-5.2),(1605.32,0.2),(1605.42,-0.1),(1605.52,0.2),(1605.62,-0.2),(1605.72,0.1),(1605.82,-0.3),(1605.92,0.0),(1606.02,-0.2),(1606.12,0.1),(1606.22,-0.3),(1606.32,0.0),(1606.42,-0.4),(1606.52,-0.1),(1606.62,-0.3),(1606.72,0.0),(1606.82,-0.4),(1606.92,-0.1),(1607.02,-0.3),(1607.15,1.9),(1607.25,-0.2),(1607.35,-0.5),(1607.45,-0.1),(1607.55,-0.4),(1607.65,0.0),(1607.75,-0.3),(1607.85,-0.6),(1607.95,-0.2),(1608.05,-0.5),(1608.15,-0.1),(1608.25,-0.4),(1608.35,-0.7),(1608.45,-0.3),(1608.55,-0.6),(1608.65,-0.2),(1608.75,-0.5),(1608.85,-0.1),(1608.95,-0.4),(1609.05,-0.1),(1609.15,-0.5),(1609.25,-0.2),(1609.35,-0.4),(1609.45,0.0),(1609.55,2.0),(1609.62,0.1),(1609.72,0.25),(1614.20,0.15),(1614.28,-0.2),(1614.38,0.1),(1614.48,-0.3),(1614.58,1.8),(1614.65,0.0),(1614.75,-0.3),(1614.85,0.1),(1614.95,-0.2),(1615.05,-0.4),(1615.15,0.0),(1615.25,-0.3),(1615.35,0.1),(1615.45,-0.2),(1615.55,-0.5),(1615.65,-0.1),(1615.75,-0.4),(1615.85,0.0),(1615.95,-0.3),(1616.05,-0.1),(1616.20,1.6),(1616.30,-0.2),(1616.40,0.1),(1616.50,-0.3),(1616.60,0.0),(1616.70,-0.4),(1616.80,0.1),(1616.90,-0.2),(1617.00,0.2),(1617.10,-0.1),(1617.20,0.3),(1617.30,0.0),(1617.40,-0.3),(1617.50,0.1),(1617.60,-0.2),(1617.70,0.2),(1617.80,-0.1),(1617.90,0.3),(1618.00,0.0),(1618.10,-0.3),(1618.20,0.1),(1618.30,1.8),(1618.40,-0.1),(1618.50,0.2),(1618.60,-0.2),(1618.70,0.1),(1618.80,-0.3),(1618.90,0.0),(1619.00,-0.2),(1619.10,0.2),(1619.20,-0.1),(1619.30,0.1),(1619.40,-0.3),(1619.50,0.0),(1619.60,-0.2),(1619.70,0.2),(1619.80,-0.1),(1619.90,0.3),(1620.00,0.0),(1620.10,-0.4),(1620.20,0.1),(1620.30,-0.3),(1620.40,0.0),(1620.50,-0.5),(1620.60,-0.1),(1620.70,-0.6),(1620.80,-0.2),(1620.90,0.1),(1621.00,-0.3),(1621.10,0.2),(1621.20,-0.1),(1621.30,0.3),(1621.40,0.0),(1621.50,-0.3),(1621.60,0.1),(1621.70,-0.2),(1621.80,0.2),(1621.92,2.2),(1622.00,0.1),(1622.10,-0.2),(1622.20,0.3),(1622.30,0.0),(1622.40,0.4),(1622.50,0.1),(1622.60,0.5),(1622.70,0.2),(1622.80,0.6),(1622.90,0.1),(1623.00,0.4),(1623.10,-0.1),(1623.20,0.3),(1623.30,-0.2),(1623.45,1.5),(1623.55,-0.4),(1623.65,-0.7),(1623.72,-1.0),(1623.80,-1.6),(1623.86,-2.2)]

s11_unp = [(1596.80,-1.5),(1596.85,-1.6),(1596.92,-1.4),(1597.00,-1.8),(1597.08,-1.5),(1597.16,-1.4),(1597.24,-1.3),(1597.32,-1.5),(1597.40,-1.4),(1597.48,-1.5),(1597.56,-1.2),(1597.64,-0.9),(1597.72,-1.9),(1597.77,-3.7),(1597.82,-2.2),(1597.90,-1.8),(1598.00,-1.6),(1598.10,-1.9),(1598.20,-1.5),(1598.30,-1.8),(1598.40,-1.4),(1598.50,-1.7),(1598.60,-1.3),(1598.70,-1.6),(1598.80,-1.2),(1598.90,-1.5),(1599.00,-1.1),(1599.10,-1.4),(1599.20,-1.0),(1599.30,-1.3),(1599.40,-1.1),(1599.50,-1.4),(1599.60,-1.0),(1599.70,-1.2),(1599.77,0.25),(1599.85,-1.2),(1599.95,-1.5),(1600.05,-1.1),(1600.15,-1.4),(1600.25,-1.0),(1600.35,-1.3),(1600.45,-0.9),(1600.55,-1.2),(1600.65,-0.8),(1600.75,-1.1),(1600.85,-0.8),(1600.95,-1.1),(1601.05,-0.7),(1601.15,-1.0),(1601.25,-0.6),(1601.35,-0.9),(1601.45,-0.5),(1601.55,-0.8),(1601.65,-0.4),(1601.75,-0.7),(1601.85,-0.3),(1601.97,-2.15),(1602.05,-0.6),(1602.15,-0.2),(1602.25,-0.5),(1602.35,-0.1),(1602.45,-0.4),(1602.55,0.0),(1602.65,-0.3),(1602.75,-0.1),(1602.85,-0.4),(1602.95,0.0),(1603.05,-0.3),(1603.15,0.1),(1603.25,-0.2),(1603.35,0.0),(1603.45,1.3),(1603.55,-0.2),(1603.65,0.1),(1603.75,-0.3),(1603.85,0.0),(1603.95,0.2),(1604.05,-0.1),(1604.15,0.3),(1604.25,0.1),(1604.35,0.4),(1604.45,0.0),(1604.55,0.3),(1604.65,0.1),(1604.75,0.4),(1604.85,0.2),(1604.95,0.5),(1605.05,0.2),(1605.15,0.3),(1605.25,-3.1),(1605.32,0.1),(1605.42,0.3),(1605.52,0.2),(1605.62,0.5),(1605.72,0.3),(1605.82,0.6),(1605.92,0.2),(1606.02,0.4),(1606.12,0.2),(1606.22,0.5),(1606.32,0.3),(1606.42,0.6),(1606.52,0.4),(1606.62,0.7),(1606.72,0.3),(1606.82,0.5),(1606.92,0.3),(1607.02,0.6),(1607.15,1.9),(1607.25,0.4),(1607.35,0.6),(1607.45,0.3),(1607.55,0.5),(1607.65,0.7),(1607.75,0.4),(1607.85,0.6),(1607.95,0.3),(1608.05,0.5),(1608.15,0.7),(1608.25,0.4),(1608.35,0.6),(1608.45,0.5),(1608.55,0.8),(1608.65,0.5),(1608.75,0.4),(1608.85,0.7),(1608.95,0.5),(1609.05,0.6),(1609.15,0.4),(1609.25,0.7),(1609.35,0.5),(1609.45,0.9),(1609.55,1.2),(1609.62,0.6),(1609.72,0.9),(1610.82,1.2),(1610.88,3.3),(1610.95,1.9),(1611.02,0.5),(1611.10,0.4),(1611.18,0.2),(1611.25,0.6),(1611.32,0.9),(1611.42,1.1),(1611.52,0.8),(1611.62,1.2),(1611.72,0.9),(1611.82,1.1),(1611.92,0.7),(1612.02,1.0),(1612.12,0.6),(1612.22,0.8),(1612.32,0.4),(1612.42,0.7),(1612.52,0.5),(1612.62,0.9),(1612.72,0.4),(1612.82,0.7),(1612.92,0.5),(1613.02,0.8),(1613.12,0.6),(1613.22,0.9),(1613.32,0.5),(1613.45,-0.55),(1613.52,0.6),(1613.62,0.8),(1613.72,0.5),(1613.82,0.9),(1613.92,0.6),(1614.02,1.0),(1614.12,0.7),(1614.22,1.5),(1614.30,0.8),(1614.40,0.5),(1614.50,0.8),(1614.60,0.4),(1614.70,0.7),(1614.80,0.3),(1614.90,0.6),(1615.00,0.4),(1615.10,0.7),(1615.20,0.3),(1615.30,0.6),(1615.40,0.4),(1615.50,0.7),(1615.60,0.3),(1615.70,0.5),(1615.80,0.2),(1615.90,0.6),(1616.00,0.3),(1616.10,0.5),(1616.20,0.9),(1616.30,0.2),(1616.40,0.4),(1616.50,0.1),(1616.60,0.4),(1616.70,0.0),(1616.80,0.3),(1616.90,0.1),(1617.00,0.4),(1617.10,0.0),(1617.20,0.2),(1617.30,-0.1),(1617.40,0.2),(1617.50,-0.2),(1617.60,0.1),(1617.70,-0.2),(1617.80,0.0),(1617.90,-0.3),(1618.00,0.0),(1618.10,-0.3),(1618.20,-0.1),(1618.30,1.2),(1618.40,-0.2),(1618.50,-0.4),(1618.60,-0.2),(1618.70,-0.5),(1618.80,-0.3),(1618.90,-0.6),(1619.00,-0.4),(1619.10,-0.7),(1619.20,-0.5),(1619.30,-0.8),(1619.40,-0.6),(1619.50,-0.9),(1619.60,-0.7),(1619.70,-1.0),(1619.80,-0.8),(1619.90,-1.1),(1620.00,-0.9),(1620.10,-1.1),(1620.20,-0.9),(1620.30,-1.2),(1620.40,-1.0),(1620.50,-1.3),(1620.60,-1.1),(1620.70,-1.4),(1620.80,-1.2),(1620.90,-1.5),(1621.00,-1.2),(1621.10,-1.6),(1621.20,-1.3),(1621.30,-1.5),(1621.40,-1.4),(1621.50,-1.7),(1621.60,-1.5),(1621.70,-1.8),(1621.80,-1.5),(1621.92,-0.2),(1622.00,-1.7),(1622.10,-1.9),(1622.20,-1.6),(1622.30,-1.9),(1622.40,-1.7),(1622.50,-2.0),(1622.60,-1.7),(1622.70,-1.9),(1622.80,-1.6),(1622.90,-2.0),(1623.00,-1.8),(1623.10,-2.1),(1623.20,-1.9),(1623.30,-2.2),(1623.40,-1.9),(1623.50,-2.1),(1623.60,-2.0),(1623.70,-2.3),(1623.78,-2.7),(1623.86,-2.4)]

s12_sap = [(1624.94,-1.3),(1625.00,-0.8),(1625.05,-0.2),(1625.12,0.7),(1625.20,0.0),(1625.24,1.6),(1625.35,0.8),(1625.45,1.4),(1625.55,0.6),(1625.61,2.3),(1625.70,1.2),(1625.80,0.7),(1625.90,1.1),(1626.00,0.3),(1626.10,0.7),(1626.20,-0.2),(1626.30,0.2),(1626.40,-0.5),(1626.50,-0.3),(1626.60,-0.8),(1626.70,-0.5),(1626.80,-1.0),(1626.90,-0.7),(1627.00,-1.2),(1627.10,-0.9),(1627.20,-1.4),(1627.30,-1.1),(1627.40,-1.6),(1627.50,-1.2),(1627.60,-1.8),(1627.70,-1.4),(1627.78,-2.45),(1627.90,-1.6),(1628.00,-2.0),(1628.10,-1.7),(1628.20,-2.2),(1628.30,-1.8),(1628.40,-2.3),(1628.50,-1.9),(1628.60,-2.6),(1628.70,-2.1),(1628.80,-2.8),(1628.90,-2.4),(1629.00,-2.9),(1629.10,-2.5),(1629.20,-3.1),(1629.28,-1.1),(1629.35,-2.7),(1629.45,-3.2),(1629.55,-2.8),(1629.65,-3.3),(1629.75,-2.9),(1629.85,-3.4),(1629.95,-3.0),(1630.05,-3.5),(1630.15,-3.1),(1630.25,-3.6),(1630.35,-3.2),(1630.45,-3.4),(1630.55,-3.0),(1630.65,-3.6),(1630.75,-3.2),(1630.90,-1.5),(1630.98,-3.3),(1631.05,-3.7),(1631.15,-3.3),(1631.25,-3.6),(1631.35,-3.2),(1631.45,-3.8),(1631.55,-3.4),(1631.65,-3.7),(1631.75,-3.3),(1631.85,-3.9),(1631.95,-3.5),(1632.05,-3.8),(1632.15,-3.4),(1632.25,-3.7),(1632.35,-3.3),(1632.45,-3.9),(1632.55,-3.5),(1632.65,-4.0),(1632.75,-3.6),(1632.85,-3.9),(1632.95,-1.9),(1633.05,-3.6),(1633.15,-4.0),(1633.25,-3.5),(1633.35,-3.9),(1633.45,-3.6),(1633.55,-4.0),(1633.65,-3.5),(1633.75,-3.8),(1633.85,-3.3),(1633.95,-3.7),(1634.05,-3.4),(1634.15,-3.8),(1634.25,-3.3),(1634.35,-3.6),(1634.45,-3.1),(1634.55,-3.5),(1634.65,-3.0),(1634.75,-3.4),(1634.85,-3.2),(1634.95,-3.6),(1635.05,-3.1),(1635.15,-3.4),(1635.25,-3.0),(1635.35,-3.3),(1635.45,-2.9),(1635.55,-3.2),(1635.65,-3.8),(1635.75,-3.0),(1635.85,-3.3),(1635.95,-2.8),(1636.05,-3.1),(1636.15,-2.6),(1636.25,-3.0),(1636.35,-2.5),(1636.45,-2.9),(1636.55,-2.4),(1636.62,-2.8),(1636.70,-0.9),(1636.80,-2.7),(1636.95,-2.3),(1637.05,-2.6),(1637.15,-2.1),(1637.25,-2.5),(1637.35,-2.0),(1637.45,-2.4),(1637.55,-1.9),(1637.65,-2.3),(1637.75,-1.8),(1637.85,-2.2),(1637.95,-1.6),(1638.05,-2.0),(1638.15,-1.5),(1638.25,-1.9),(1638.32,-0.3),(1638.45,-1.8),(1638.55,-2.2),(1638.65,-1.6),(1638.75,-2.0),(1638.85,-1.7),(1638.95,-1.9),(1639.00,-1.7),(1640.05,0.7),(1640.12,1.2),(1640.20,0.8),(1640.27,1.1),(1640.34,2.0),(1640.45,0.9),(1640.55,0.5),(1640.65,1.0),(1640.75,0.6),(1640.85,1.1),(1640.95,0.5),(1641.05,0.9),(1641.15,-0.2),(1641.25,0.3),(1641.35,-0.3),(1641.45,0.1),(1641.55,-0.2),(1641.65,0.3),(1641.75,0.0),(1641.85,0.4),(1641.95,0.1),(1642.05,0.5),(1642.15,0.2),(1642.25,0.6),(1642.35,0.3),(1642.45,0.5),(1642.55,0.2),(1642.65,0.6),(1642.75,0.4),(1642.85,0.7),(1642.95,0.3),(1643.05,0.6),(1643.15,0.4),(1643.25,0.8),(1643.35,0.5),(1643.45,0.7),(1643.55,0.3),(1643.65,0.6),(1643.75,0.4),(1643.85,0.8),(1643.95,0.5),(1644.05,0.9),(1644.15,0.6),(1644.25,0.8),(1644.35,0.5),(1644.45,0.9),(1644.55,0.6),(1644.65,1.0),(1644.75,0.7),(1644.85,0.5),(1644.95,0.8),(1645.05,0.6),(1645.15,1.0),(1645.25,0.7),(1645.35,0.9),(1645.45,0.6),(1645.55,1.1),(1645.65,0.7),(1645.75,1.0),(1645.85,0.8),(1645.95,1.1),(1646.05,0.7),(1646.15,0.9),(1646.25,0.6),(1646.35,1.0),(1646.45,0.8),(1646.55,1.2),(1646.65,0.9),(1646.75,0.7),(1646.85,1.1),(1646.95,0.8),(1647.05,1.2),(1647.15,0.9),(1647.25,1.1),(1647.35,0.7),(1647.45,1.0),(1647.55,0.8),(1647.75,1.9),(1647.85,0.9),(1647.95,1.2),(1648.05,0.8),(1648.15,1.1),(1648.25,0.7),(1648.35,1.0),(1648.45,0.8),(1648.55,1.2),(1648.65,0.9),(1648.75,1.3),(1648.85,1.0),(1648.95,1.2),(1649.05,0.8),(1649.15,1.1),(1649.25,1.4),(1649.35,1.0),(1649.45,1.3),(1649.55,0.9),(1649.65,1.2),(1649.75,0.8),(1649.85,1.1),(1649.95,0.9),(1650.05,1.2),(1650.15,0.8),(1650.25,1.0),(1650.35,0.7),(1650.45,1.1),(1650.55,0.8),(1650.65,1.0),(1650.75,0.6),(1650.85,0.9),(1650.95,1.1),(1651.05,0.8),(1651.15,1.2),(1651.25,0.9),(1651.35,1.1),(1651.45,0.7),(1651.55,1.0),(1651.65,0.8),(1651.75,1.1),(1651.85,0.9),(1651.95,1.2),(1652.05,0.9),(1652.15,1.1),(1652.25,0.8),(1652.35,1.0),(1652.45,1.3),(1652.55,0.9),(1652.65,1.1),(1652.75,1.0),(1652.84,1.1)]

s12_pdc = [(1627.43,0.35),(1627.48,1.4),(1627.55,0.5),(1627.65,0.1),(1627.75,0.6),(1627.85,0.3),(1627.95,0.7),(1628.05,0.2),(1628.15,-0.1),(1628.25,0.3),(1628.35,0.0),(1628.45,-0.2),(1628.55,0.2),(1628.65,-0.1),(1628.75,0.3),(1628.85,0.0),(1628.95,-0.3),(1629.05,0.1),(1629.15,-0.2),(1629.28,2.1),(1629.38,0.1),(1629.48,-0.4),(1629.58,0.0),(1629.68,-0.3),(1629.78,0.2),(1629.88,-0.1),(1629.98,0.3),(1630.08,-0.2),(1630.18,0.1),(1630.28,-0.3),(1630.38,0.0),(1630.48,-0.4),(1630.58,0.1),(1630.68,-0.2),(1630.78,0.2),(1630.90,1.8),(1631.00,0.0),(1631.10,-0.3),(1631.20,0.1),(1631.30,-0.2),(1631.40,0.2),(1631.50,-0.4),(1631.60,0.0),(1631.70,-0.3),(1631.80,0.2),(1631.90,-0.1),(1632.00,0.1),(1632.10,-0.3),(1632.20,0.0),(1632.30,-0.2),(1632.40,0.2),(1632.50,-0.1),(1632.60,0.1),(1632.70,-0.4),(1632.80,0.0),(1632.95,2.05),(1633.05,-0.2),(1633.15,0.1),(1633.25,-0.3),(1633.35,0.0),(1633.45,-0.2),(1633.55,0.2),(1633.65,-0.1),(1633.75,0.1),(1633.85,-0.3),(1633.95,0.0),(1634.05,-0.2),(1634.15,0.2),(1634.25,-0.1),(1634.35,0.1),(1634.45,-0.3),(1634.55,0.0),(1634.65,-0.2),(1634.75,0.2),(1634.85,-0.1),(1634.95,0.1),(1635.05,-0.4),(1635.15,-0.1),(1635.25,-0.3),(1635.35,0.0),(1635.45,-0.6),(1635.55,-0.2),(1635.65,0.1),(1635.75,-0.3),(1635.85,0.0),(1635.95,-0.2),(1636.05,0.2),(1636.15,-0.1),(1636.25,0.1),(1636.35,-0.3),(1636.45,0.0),(1636.55,0.3),(1636.70,2.0),(1636.80,0.1),(1636.90,-0.2),(1637.00,0.2),(1637.10,-0.1),(1637.20,0.3),(1637.30,0.0),(1637.40,-0.2),(1637.50,0.2),(1637.60,0.0),(1637.70,0.4),(1637.80,0.1),(1637.90,0.3),(1638.00,0.0),(1638.10,0.4),(1638.20,0.1),(1638.32,1.7),(1638.40,0.3),(1638.50,0.0),(1638.60,0.4),(1638.70,0.1),(1638.80,0.6),(1638.90,0.2),(1639.00,0.2),(1641.80,0.15),(1641.85,-0.6),(1641.95,0.0),(1642.05,-0.3),(1642.15,0.2),(1642.25,-0.2),(1642.35,0.1),(1642.45,-0.4),(1642.55,0.0),(1642.65,-0.2),(1642.75,0.2),(1642.85,-0.3),(1642.95,0.1),(1643.05,-0.2),(1643.15,-0.6),(1643.25,-0.1),(1643.35,0.2),(1643.45,-0.3),(1643.55,0.0),(1643.65,-0.2),(1643.75,0.2),(1643.85,-0.1),(1643.95,0.3),(1644.05,1.3),(1644.15,0.0),(1644.25,-0.3),(1644.35,0.1),(1644.45,-0.2),(1644.55,0.2),(1644.65,-0.1),(1644.75,0.3),(1644.85,0.0),(1644.95,-0.3),(1645.05,0.1),(1645.15,-0.2),(1645.25,0.2),(1645.35,-0.1),(1645.45,0.3),(1645.55,0.0),(1645.65,-0.3),(1645.80,1.8),(1645.90,0.0),(1646.00,-0.7),(1646.10,-0.2),(1646.20,0.1),(1646.30,-0.3),(1646.40,0.0),(1646.50,-0.2),(1646.60,0.2),(1646.70,-0.1),(1646.80,0.3),(1646.90,0.0),(1647.00,-0.3),(1647.10,0.1),(1647.20,-0.2),(1647.30,0.2),(1647.40,-0.1),(1647.50,0.1),(1647.60,-0.2),(1647.75,1.9),(1647.85,0.0),(1647.95,-0.3),(1648.05,0.1),(1648.15,-0.2),(1648.25,0.2),(1648.35,-0.1),(1648.45,-0.5),(1648.55,0.0),(1648.65,-0.3),(1648.75,0.1),(1648.85,-0.2),(1648.95,0.2),(1649.05,-0.1),(1649.15,0.1),(1649.25,-0.3),(1649.35,0.0),(1649.45,-0.2),(1649.55,0.2),(1649.65,-0.1),(1649.75,-0.4),(1649.85,0.0),(1649.95,-0.8),(1650.05,-0.2),(1650.15,0.1),(1650.25,-0.3),(1650.35,0.0),(1650.45,-0.2),(1650.55,0.2),(1650.65,-0.1),(1650.75,0.1),(1650.85,-0.3),(1650.95,0.0),(1651.05,-0.4),(1651.15,-0.1),(1651.25,-0.3),(1651.38,1.5),(1651.45,-0.2),(1651.55,0.0),(1651.65,-0.4),(1651.75,-0.1),(1651.85,-0.3),(1651.95,0.0),(1652.05,-0.5),(1652.15,-0.2),(1652.25,0.6),(1652.35,-0.4),(1652.45,-0.2),(1652.55,-0.6),(1652.65,-0.3),(1652.75,-1.1),(1652.84,-0.9)]

s12_unp = [(1624.94,0.0),(1624.98,-0.7),(1625.05,-0.3),(1625.12,0.4),(1625.20,-0.1),(1625.28,0.5),(1625.36,-0.4),(1625.45,0.2),(1625.55,-0.5),(1625.62,1.4),(1625.70,-0.3),(1625.80,-0.7),(1625.90,-0.4),(1626.00,-0.9),(1626.10,-0.6),(1626.20,-1.1),(1626.30,-0.8),(1626.40,-1.3),(1626.50,-0.9),(1626.60,-1.2),(1626.70,-0.8),(1626.80,-1.3),(1626.90,-1.0),(1627.00,-1.4),(1627.10,-1.1),(1627.20,-1.5),(1627.30,-1.2),(1627.40,-1.6),(1627.50,-0.4),(1627.58,-1.4),(1627.68,-1.8),(1627.78,-2.2),(1627.88,-1.7),(1627.98,-2.0),(1628.08,-1.6),(1628.18,-1.9),(1628.28,-1.5),(1628.38,-1.8),(1628.48,-2.1),(1628.58,-1.7),(1628.68,-2.0),(1628.78,-1.6),(1628.88,-2.2),(1628.98,-1.8),(1629.08,-2.4),(1629.18,-1.9),(1629.28,0.15),(1629.38,-2.0),(1629.48,-2.5),(1629.58,-2.0),(1629.68,-2.3),(1629.78,-1.8),(1629.88,-2.2),(1629.98,-1.9),(1630.08,-2.4),(1630.18,-2.0),(1630.28,-2.3),(1630.38,-1.9),(1630.48,-2.2),(1630.58,-1.8),(1630.68,-2.5),(1630.78,-2.7),(1630.90,-0.65),(1631.00,-2.1),(1631.10,-1.8),(1631.20,-2.3),(1631.30,-2.0),(1631.40,-2.4),(1631.50,-2.0),(1631.60,-1.7),(1631.70,-2.2),(1631.80,-1.9),(1631.90,-2.4),(1632.00,-2.1),(1632.10,-2.5),(1632.20,-2.0),(1632.30,-2.3),(1632.40,-1.9),(1632.50,-2.2),(1632.60,-1.8),(1632.70,-2.1),(1632.80,-1.7),(1632.95,0.15),(1633.05,-1.8),(1633.15,-2.2),(1633.25,-1.8),(1633.35,-2.1),(1633.45,-1.6),(1633.55,-2.0),(1633.65,-1.7),(1633.75,-2.1),(1633.85,-1.6),(1633.95,-2.0),(1634.05,-1.7),(1634.15,-1.9),(1634.25,-1.5),(1634.35,-1.9),(1634.45,-1.5),(1634.55,-1.8),(1634.65,-1.4),(1634.75,-1.8),(1634.85,-1.5),(1634.95,-1.7),(1635.05,-1.3),(1635.15,-1.7),(1635.25,-1.4),(1635.35,-1.8),(1635.45,-1.3),(1635.55,-1.6),(1635.65,-1.2),(1635.75,-1.5),(1635.85,-1.1),(1635.95,-1.4),(1636.05,-1.0),(1636.15,-1.4),(1636.25,-0.9),(1636.35,-1.3),(1636.45,-0.8),(1636.55,-1.1),(1636.70,0.9),(1636.80,-1.0),(1636.90,-0.7),(1637.00,-1.1),(1637.10,-0.6),(1637.20,-0.9),(1637.30,-0.5),(1637.40,-0.8),(1637.50,-0.4),(1637.60,-0.8),(1637.70,-0.3),(1637.80,-0.6),(1637.90,-0.2),(1638.00,-0.5),(1638.10,-0.1),(1638.20,-0.4),(1638.32,0.6),(1638.40,-0.3),(1638.50,0.0),(1638.60,-0.4),(1638.70,-0.1),(1638.80,0.2),(1638.90,-0.2),(1639.00,-0.15),(1640.00,-0.1),(1640.08,0.8),(1640.16,0.3),(1640.24,0.9),(1640.34,1.3),(1640.42,0.5),(1640.52,0.9),(1640.62,0.4),(1640.72,0.8),(1640.82,0.5),(1640.92,1.0),(1641.02,0.6),(1641.12,0.9),(1641.22,0.5),(1641.32,1.1),(1641.42,0.7),(1641.52,1.0),(1641.62,0.6),(1641.72,1.2),(1641.82,0.8),(1641.92,0.5),(1642.02,1.0),(1642.12,0.7),(1642.22,1.3),(1642.32,0.9),(1642.42,1.2),(1642.52,0.8),(1642.62,1.4),(1642.72,1.0),(1642.82,1.3),(1642.95,2.4),(1643.05,1.2),(1643.15,1.5),(1643.25,1.1),(1643.35,1.6),(1643.45,1.3),(1643.55,1.8),(1643.65,1.4),(1643.75,1.7),(1643.85,1.3),(1643.95,1.9),(1644.05,3.8),(1644.15,1.6),(1644.25,1.9),(1644.35,1.5),(1644.45,2.0),(1644.55,1.7),(1644.65,2.2),(1644.75,1.8),(1644.85,2.1),(1644.95,1.7),(1645.10,3.2),(1645.20,2.0),(1645.30,2.4),(1645.40,1.9),(1645.50,2.3),(1645.60,2.0),(1645.70,2.6),(1645.85,3.9),(1645.95,2.1),(1646.05,2.5),(1646.15,2.0),(1646.25,2.4),(1646.35,2.1),(1646.45,2.6),(1646.55,2.2),(1646.65,2.5),(1646.75,2.1),(1646.85,2.7),(1646.95,2.3),(1647.05,2.6),(1647.15,2.2),(1647.25,2.8),(1647.35,2.3),(1647.45,2.6),(1647.55,3.0),(1647.65,2.4),(1647.75,4.5),(1647.85,2.5),(1647.95,2.9),(1648.05,2.3),(1648.15,2.7),(1648.25,2.4),(1648.35,2.8),(1648.45,2.3),(1648.55,2.6),(1648.65,2.2),(1648.75,2.7),(1648.85,2.4),(1648.95,2.9),(1649.05,2.3),(1649.15,2.6),(1649.25,2.2),(1649.35,2.5),(1649.45,2.1),(1649.55,2.6),(1649.65,2.3),(1649.75,2.5),(1649.85,2.1),(1649.95,2.4),(1650.10,3.0),(1650.20,2.2),(1650.30,2.5),(1650.40,2.0),(1650.50,2.4),(1650.60,2.1),(1650.70,2.3),(1650.80,1.9),(1650.90,2.2),(1651.00,1.8),(1651.10,2.2),(1651.20,1.9),(1651.30,2.1),(1651.40,4.0),(1651.48,1.8),(1651.58,2.1),(1651.68,1.7),(1651.78,2.0),(1651.88,1.6),(1651.98,1.9),(1652.08,2.6),(1652.18,1.7),(1652.28,2.0),(1652.38,1.5),(1652.48,1.8),(1652.58,2.1),(1652.65,1.3),(1652.72,1.0),(1652.78,1.4),(1652.84,1.0)]

series = {
    9: (s9_sap, s9_pdc, s9_unp),
    10: (s10_sap, s10_pdc, s10_unp),
    11: (s11_sap, s11_pdc, s11_unp),
    12: (s12_sap, s12_pdc, s12_unp),
}

# ---------------- style ----------------
C_SAP, C_PDC, C_UNP = "#4C72B0", "#55A868", "#C44E52"
BG = "#EAEAF2"
FONT = "Liberation Serif"
TXT = "#262626"
W, H = 1322, 869

# panel pixel boxes (left, right, top, bottom)
boxes = [(59, 657, 30, 386), (713, 1311, 30, 386), (55, 640, 465, 822), (710, 1309, 465, 822)]
legend_pos = [(362, 36), (716, 36), (60, 759), (1013, 471)]
ylabel_x = [21, 676, 17, 673]

fig = go.Figure()
layout = dict(
    width=W, height=H, paper_bgcolor="white", plot_bgcolor=BG,
    margin=dict(l=0, r=0, t=0, b=0, pad=0), showlegend=True, autosize=False,
    font=dict(family=FONT, color=TXT),
    annotations=[],
)

for i, sec in enumerate(sectors):
    n = "" if i == 0 else str(i + 1)
    xa, ya = "x" + n, "y" + n
    leg = "legend" if i == 0 else "legend" + str(i + 1)
    sap, pdc, unp = series[sec]
    names = [
        f"SAP Flux | <i>σ</i> = {sigma_sap[i]} mmag | IDR = {idr_sap[i]} mmag",
        f"PDCSAP Flux | <i>σ</i> = {sigma_pdc[i]} mmag | IDR = {idr_pdc[i]} mmag",
        f"unpopular Flux | <i>σ</i> = {sigma_unp[i]} mmag | IDR = {idr_unp[i]} mmag",
    ]
    for data, col, nm in zip((sap, pdc, unp), (C_SAP, C_PDC, C_UNP), names):
        fig.add_trace(go.Scatter(
            x=[p[0] for p in data], y=[p[1] for p in data], mode="lines",
            line=dict(color=col, width=1.1), name=nm, xaxis=xa, yaxis=ya,
            legend=leg,
        ))
    allt = [p[0] for d in (sap, pdc, unp) for p in d]
    tmin, tmax = min(allt), max(allt)
    pad = 0.05 * (tmax - tmin)
    l, r, t, b = boxes[i]
    xkey = "xaxis" + n
    ykey = "yaxis" + n
    layout[xkey] = dict(
        domain=[l / W, r / W], anchor=ya, range=[tmin - pad, tmax + pad],
        dtick=5, tick0=1545, showgrid=True, gridcolor="white", gridwidth=1.3,
        zeroline=False, showline=False, ticks="", automargin=False,
        tickfont=dict(family=FONT, size=18, color=TXT),
    )
    layout[ykey] = dict(
        domain=[1 - b / H, 1 - t / H], anchor=xa, range=[5, -5],
        tickvals=[-4, -2, 0, 2, 4], showgrid=True, gridcolor="white", gridwidth=1.3,
        zeroline=False, showline=False, ticks="", automargin=False,
        tickfont=dict(family=FONT, size=18, color=TXT),
    )
    lx, ly = legend_pos[i]
    layout[leg] = dict(
        x=lx / W, y=1 - ly / H, xanchor="left", yanchor="top", xref="paper", yref="paper",
        bgcolor="rgba(0,0,0,0)", borderwidth=0, itemwidth=30, tracegroupgap=0,
        font=dict(family=FONT, size=12, color=TXT),
    )
    cx = (l + r) / 2
    layout["annotations"] += [
        dict(text=f"L 98-59 - TIC 307210830 - Sector {sec}", x=cx / W, y=1 - (t - 18) / H,
             xref="paper", yref="paper", showarrow=False, xanchor="center", yanchor="middle",
             font=dict(family=FONT, size=21, color=TXT)),
        dict(text="Time - 2457000 [BTJD days]", x=cx / W, y=1 - (b + 33) / H,
             xref="paper", yref="paper", showarrow=False, xanchor="center", yanchor="middle",
             font=dict(family=FONT, size=21, color=TXT)),
        dict(text="Δ (mmag)", x=ylabel_x[i] / W, y=1 - ((t + b) / 2) / H, textangle=-90,
             xref="paper", yref="paper", showarrow=False, xanchor="center", yanchor="middle",
             font=dict(family=FONT, size=22, color=TXT)),
    ]

fig.update_layout(**layout)
fig.write_html(
    "out.html",
    config={"displayModeBar": False},
    post_script="document.body.style.margin='0';document.body.style.padding='0';document.body.style.overflow='hidden';",
)
